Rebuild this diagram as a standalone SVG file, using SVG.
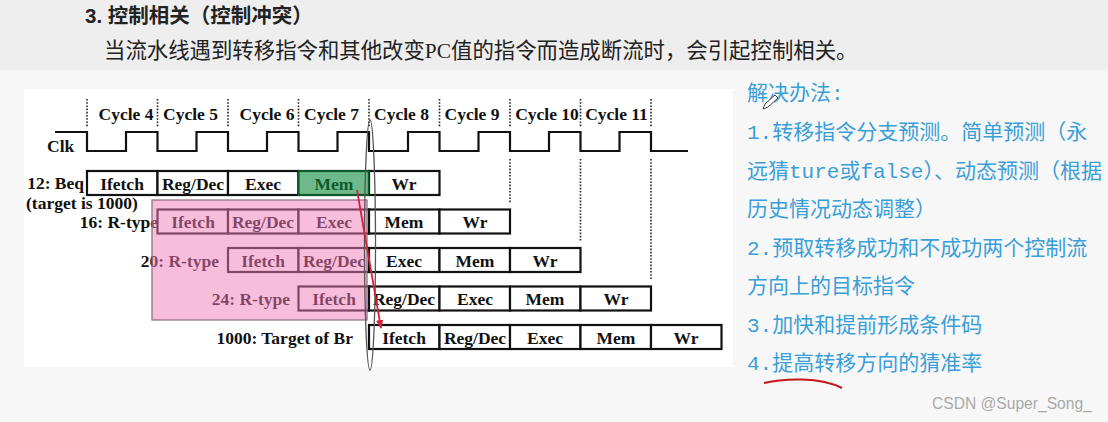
<svg xmlns="http://www.w3.org/2000/svg" width="1108" height="422" viewBox="0 0 1108 422">
<defs>
<style>
.lbl{font-family:"Liberation Serif",serif;font-weight:bold;font-size:17.5px;fill:#111}
.c{text-anchor:middle}
.e{text-anchor:end}
.box{fill:#fff;stroke:#111;stroke-width:2.2}
.dot{stroke:#222;stroke-width:1.6;stroke-dasharray:1.6 1.6;fill:none}
.note{font-family:"Liberation Mono","Noto Sans CJK SC",monospace;font-size:21px;fill:#3a9fd8}
</style>
<marker id="ah" viewBox="0 0 10 10" refX="9" refY="5" markerWidth="5" markerHeight="5" orient="auto">
<path d="M0,1 L10,5 L0,9 z" fill="#d3223a"/>
</marker>
</defs>
<rect x="0" y="0" width="1108" height="422" fill="#f7f7f7"/>
<rect x="0" y="0" width="1108" height="70" fill="#eeeeee"/>
<rect x="24" y="89" width="709" height="278" fill="#ffffff"/>

<g id="header">
<text x="85" y="23" style="font-family:'Liberation Sans','Noto Sans CJK SC',sans-serif;font-weight:bold;font-size:20.5px;fill:#222">3. 控制相关（控制冲突）</text>
<text x="104" y="58" style="font-family:'Liberation Serif','Noto Sans CJK SC',serif;font-size:21.4px;fill:#222">当流水线遇到转移指令和其他改变PC值的指令而造成断流时，会引起控制相关。</text>
</g>

<g id="cycles">
<text class="lbl c" x="126" y="120">Cycle 4</text>
<text class="lbl c" x="190.5" y="120">Cycle 5</text>
<text class="lbl c" x="267" y="120">Cycle 6</text>
<text class="lbl c" x="331.5" y="120">Cycle 7</text>
<text class="lbl c" x="401.5" y="120">Cycle 8</text>
<text class="lbl c" x="472" y="120">Cycle 9</text>
<text class="lbl c" x="547" y="120">Cycle 10</text>
<text class="lbl c" x="616.5" y="120">Cycle 11</text>
<path class="dot" d="M87,99V127 M157.5,99V127 M228,99V127 M298.5,99V127 M369,99V127 M439.5,99V127 M510,99V127 M580.5,99V127 M651,99V127"/>
<path class="dot" d="M510,159V203 M580.5,159V241 M651,159V280"/>
</g>

<g id="clock">
<text class="lbl" x="47" y="152">Clk</text>
<path d="M55,132H87V151H126V132H157.5V151H196.5V132H228V151H267V132H298.5V151H337.5V132H369V151H408V132H439.5V151H478.5V132H510V151H549V132H580.5V151H619.5V132H651V151H688" fill="none" stroke="#111" stroke-width="2.2"/>
</g>

<g id="row-12">
<text class="lbl e" x="84" y="189">12: Beq</text>
<text class="lbl" x="26" y="209">(target is 1000)</text>
<rect class="box" x="87" y="171" width="70.5" height="24"/>
<rect class="box" x="157.5" y="171" width="70.5" height="24"/>
<rect class="box" x="228" y="171" width="70.5" height="24"/>
<rect class="box" x="298.5" y="171" width="70.5" height="24"/>
<rect class="box" x="369" y="171" width="70.5" height="24"/>
<text class="lbl c" x="122" y="189.5">Ifetch</text>
<text class="lbl c" x="193" y="189.5">Reg/Dec</text>
<text class="lbl c" x="263" y="189.5">Exec</text>
<text class="lbl c" x="334" y="189.5">Mem</text>
<text class="lbl c" x="404" y="189.5">Wr</text>
</g>

<g id="row-16">
<text class="lbl e" x="158" y="228">16: R-type</text>
<rect class="box" x="157.5" y="209.5" width="70.5" height="24"/>
<rect class="box" x="228" y="209.5" width="70.5" height="24"/>
<rect class="box" x="298.5" y="209.5" width="70.5" height="24"/>
<rect class="box" x="369" y="209.5" width="70.5" height="24"/>
<rect class="box" x="439.5" y="209.5" width="70.5" height="24"/>
<text class="lbl c" x="193" y="228">Ifetch</text>
<text class="lbl c" x="263" y="228">Reg/Dec</text>
<text class="lbl c" x="334" y="228">Exec</text>
<text class="lbl c" x="404" y="228">Mem</text>
<text class="lbl c" x="475" y="228">Wr</text>
</g>

<g id="row-20">
<text class="lbl e" x="219" y="266.5">20: R-type</text>
<rect class="box" x="228" y="248" width="70.5" height="24"/>
<rect class="box" x="298.5" y="248" width="70.5" height="24"/>
<rect class="box" x="369" y="248" width="70.5" height="24"/>
<rect class="box" x="439.5" y="248" width="70.5" height="24"/>
<rect class="box" x="510" y="248" width="70.5" height="24"/>
<text class="lbl c" x="263" y="266.5">Ifetch</text>
<text class="lbl c" x="334" y="266.5">Reg/Dec</text>
<text class="lbl c" x="404" y="266.5">Exec</text>
<text class="lbl c" x="475" y="266.5">Mem</text>
<text class="lbl c" x="545" y="266.5">Wr</text>
</g>

<g id="row-24">
<text class="lbl e" x="290" y="305">24: R-type</text>
<rect class="box" x="298.5" y="286.5" width="70.5" height="24"/>
<rect class="box" x="369" y="286.5" width="70.5" height="24"/>
<rect class="box" x="439.5" y="286.5" width="70.5" height="24"/>
<rect class="box" x="510" y="286.5" width="70.5" height="24"/>
<rect class="box" x="580.5" y="286.5" width="70.5" height="24"/>
<text class="lbl c" x="334" y="305">Ifetch</text>
<text class="lbl c" x="404" y="305">Reg/Dec</text>
<text class="lbl c" x="475" y="305">Exec</text>
<text class="lbl c" x="545" y="305">Mem</text>
<text class="lbl c" x="616" y="305">Wr</text>
</g>

<g id="row-1000">
<text class="lbl e" x="353" y="343.5">1000: Target of Br</text>
<rect class="box" x="369" y="325" width="70.5" height="24"/>
<rect class="box" x="439.5" y="325" width="70.5" height="24"/>
<rect class="box" x="510" y="325" width="70.5" height="24"/>
<rect class="box" x="580.5" y="325" width="70.5" height="24"/>
<rect class="box" x="651" y="325" width="70.5" height="24"/>
<text class="lbl c" x="404" y="343.5">Ifetch</text>
<text class="lbl c" x="475" y="343.5">Reg/Dec</text>
<text class="lbl c" x="545" y="343.5">Exec</text>
<text class="lbl c" x="616" y="343.5">Mem</text>
<text class="lbl c" x="686" y="343.5">Wr</text>
</g>

<g id="flushed-overlay">
<rect x="152" y="200" width="215" height="120" fill="#f37bb9" fill-opacity="0.5" stroke="#8a6a7a" stroke-width="1.2"/>
</g>
<g id="branch-mem-highlight">
<rect x="297.5" y="170" width="72" height="26" fill="#0c8a3c" fill-opacity="0.6"/>
</g>
<g id="branch-ellipse">
<ellipse cx="370" cy="245" rx="5.5" ry="125" fill="none" stroke="#555" stroke-width="1.3"/>
</g>

<g id="connectors">
<line x1="357" y1="190" x2="381" y2="328" stroke="#d3223a" stroke-width="1.8" marker-end="url(#ah)"/>
</g>

<g id="notes">
<text class="note" x="747" y="99.5">解决办法:</text>
<text class="note" x="747" y="138.5">1.转移指令分支预测。简单预测（永</text>
<text class="note" x="747" y="177.5">远猜ture或false）、动态预测（根据</text>
<text class="note" x="747" y="216">历史情况动态调整）</text>
<text class="note" x="747" y="254.5">2.预取转移成功和不成功两个控制流</text>
<text class="note" x="747" y="293">方向上的目标指令</text>
<text class="note" x="747" y="331.5">3.加快和提前形成条件码</text>
<text class="note" x="747" y="370">4.提高转移方向的猜准率</text>
<path d="M764,383 C785,378 820,377 842,388" fill="none" stroke="#c4161c" stroke-width="2"/>
<path d="M763,109 L765,104 L775,95 L778,98 L768,107 Z" fill="#fff" stroke="#444" stroke-width="1"/>
</g>

<text x="932" y="409" style="font-family:'Liberation Sans',sans-serif;font-size:15.6px;fill:#aaaaaa">CSDN @Super_Song_</text>
</svg>
